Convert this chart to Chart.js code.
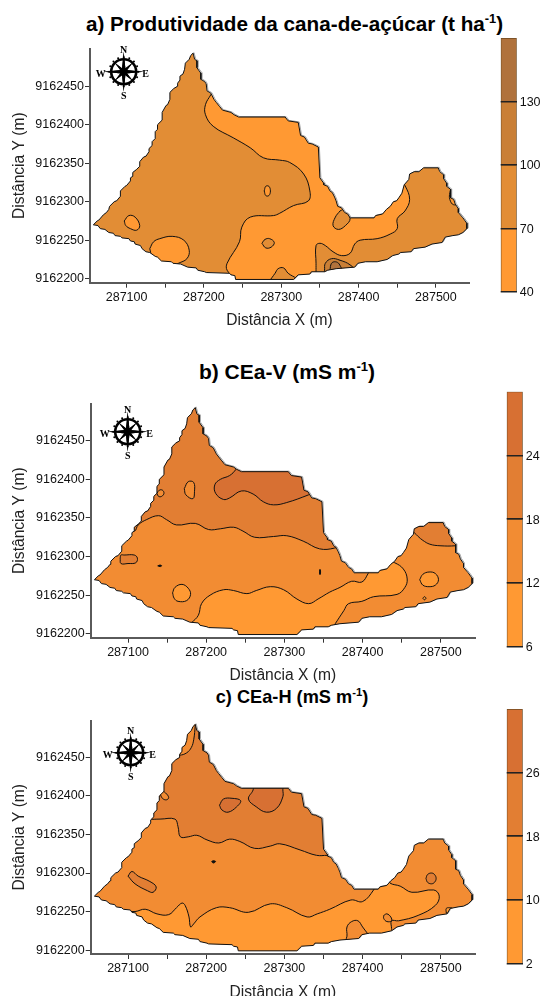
<!DOCTYPE html>
<html>
<head>
<meta charset="utf-8">
<title>Mapas</title>
<script src="https://cdn.jsdelivr.net/npm/chart.js@4"></script>
<style>
    html, body { margin: 0; padding: 0; background: #fff; }
    body { position: relative; width: 542px; height: 996px; overflow: hidden; font-family: "Liberation Sans", Arial, sans-serif; }
    canvas { position: absolute; left: 0; }
    .titulo { position: absolute; font-weight: bold; color: #000; white-space: nowrap; transform: translateX(-50%); line-height: 1; }
    .titulo sup { font-size: 0.62em; line-height: 0; }
</style>
</head>
<body>
<div class="titulo" style="left:294.5px;top:14px;font-size:20.7px">a) Produtividade da cana-de-açúcar (t ha<sup>-1</sup>)</div>
<div class="titulo" style="left:287px;top:361px;font-size:21px">b) CEa-V (mS m<sup>-1</sup>)</div>
<div class="titulo" style="left:292px;top:688px;font-size:18.2px">c) CEa-H (mS m<sup>-1</sup>)</div>
<canvas id="mapa-a" width="480" height="290" style="top:40px"></canvas>
<canvas id="mapa-b" width="486" height="290" style="top:395px"></canvas>
<canvas id="mapa-c" width="486" height="290" style="top:712px"></canvas>
<canvas id="barra-a" width="44" height="272" style="left:498px;top:32px"></canvas>
<canvas id="barra-b" width="38" height="272" style="left:504px;top:386px"></canvas>
<canvas id="barra-c" width="38" height="272" style="left:504px;top:703px"></canvas>
<script>
// coordenadas em metros, relativas a estas origens
const eastOrigin = 287000;
const northOrigin = 9162000;

// contorno da area (igual nos tres mapas)
const fieldEdge = [[57,270],[62,275],[64,276],[70,283],[74,286],[77,290],[78,294],[84,300],[87,301],[92,307],[92,314],[98,320],[100,321],[105,327],[105,331],[108,333],[108,338],[113,342],[117,346],[117,352],[122,358],[125,359],[129,365],[129,369],[133,373],[133,378],[137,382],[137,391],[140,394],[140,400],[146,406],[146,416],[151,425],[153,426],[156,433],[156,442],[161,447],[166,450],[166,454],[169,458],[169,463],[173,466],[175,472],[176,480],[181,485],[183,490],[186,493],[188,485],[191,483],[191,474],[196,467],[196,459],[201,456],[203,453],[204,444],[209,441],[213,433],[216,429],[220,424],[224,419],[235,416],[239,413],[245,410],[305,410],[309,405],[322,403],[325,386],[330,384],[335,376],[340,375],[348,371],[350,331],[355,324],[355,322],[360,320],[363,314],[366,312],[369,306],[371,301],[373,294],[378,292],[382,286],[386,284],[389,279],[420,279],[422,282],[431,284],[436,290],[441,294],[445,300],[449,301],[452,305],[456,311],[459,322],[465,329],[466,336],[472,339],[478,339],[484,344],[503,344],[505,339],[510,335],[510,330],[514,324],[514,320],[519,316],[519,305],[523,303],[525,297],[529,291],[529,286],[535,279],[540,272],[540,265],[535,260],[529,257],[522,256],[512,254],[508,247],[495,245],[486,241],[471,239],[468,235],[454,234],[452,232],[444,230],[437,225],[424,222],[409,222],[399,220],[395,215],[371,213],[360,211],[356,209],[339,209],[337,206],[322,205],[316,199],[241,199],[240,204],[235,205],[233,207],[203,208],[201,209],[192,211],[190,214],[179,215],[170,219],[160,220],[158,222],[145,223],[140,228],[137,229],[130,234],[125,235],[120,239],[118,243],[111,245],[110,248],[105,249],[103,252],[94,253],[92,255],[85,256],[83,259],[77,260],[72,264],[66,265],[63,269],[57,270]];

// a) produtividade
const prodMain = [[213,446],[209,439],[202,426],[202,413],[212,398],[238,383],[260,370],[277,357],[298,354],[311,351],[329,336],[337,314],[335,301],[316,295],[298,285],[290,282],[260,280],[249,267],[246,248],[230,220],[230,211],[240,200],[243,194],[345,196],[345,209],[345,220],[345,243],[350,246],[357,243],[367,235],[378,230],[389,233],[395,245],[402,250],[424,252],[441,258],[450,265],[450,278],[460,288],[466,303],[460,321],[452,332],[400,365],[350,425],[213,446]];
const prodIslandA = [[97,275],[103,282],[111,280],[117,269],[113,263],[105,265],[99,269],[97,275]];
const prodIslandB = [[130,239],[135,248],[143,252],[159,255],[174,250],[181,237],[178,226],[167,220],[150,212],[135,222],[130,239]];
const prodIslandC = [[278,314],[280,320],[284,320],[286,314],[284,308],[280,308],[278,314]];
const prodIslandD = [[520,318],[518,312],[518,303],[523,296],[532,300],[526,318],[520,318]];
const prodHoleA = [[376,288],[370,280],[367,269],[374,264],[383,269],[389,278],[382,290],[376,288]];
const prodHoleB = [[284,196],[292,207],[296,213],[303,214],[309,207],[320,200],[322,196],[284,196]];
const prodHoleC = [[275,246],[279,251],[285,252],[291,247],[287,241],[280,240],[275,246]];
const prodHighOuter = [[355,205],[356,211],[357,220],[365,226],[376,224],[389,218],[395,210],[355,205]];
const prodHighInner = [[362,205],[363,211],[365,220],[370,222],[375,219],[378,208],[362,205]];

// b) CEa-V
const ceavUpper = [[90,340],[108,333],[113,341],[124,348],[139,353],[149,348],[162,341],[186,343],[203,335],[218,336],[235,338],[247,333],[262,325],[286,326],[303,327],[324,320],[345,310],[364,311],[372,316],[382,400],[250,497],[130,497],[90,340]];
const ceavRight = [[462,333],[466,331],[471,326],[477,321],[486,316],[499,314],[519,314],[528,316],[525,350],[470,350],[462,333]];
const ceavTop = [[245,425],[238,413],[230,405],[218,400],[211,393],[212,382],[222,374],[230,376],[245,385],[260,381],[273,371],[286,367],[303,370],[331,380],[342,385],[335,425],[245,425]];
const ceavLow = [[175,208],[181,214],[190,224],[194,239],[205,250],[222,257],[235,256],[252,252],[264,256],[282,261],[299,257],[316,245],[331,239],[343,245],[358,254],[371,260],[386,268],[399,267],[407,278],[412,288],[428,296],[441,292],[452,284],[457,271],[454,260],[444,251],[414,248],[399,242],[382,239],[376,230],[365,213],[360,205],[340,196],[240,196],[175,208]];
const ceavIslandA = [[172,388],[177,397],[184,396],[185,384],[183,375],[174,380],[172,388]];
const ceavIslandB = [[137,382],[140,386],[144,386],[146,382],[143,378],[139,378],[137,382]];
const ceavIslandC = [[90,298],[91,302],[95,302],[108,302],[112,298],[110,292],[100,291],[91,291],[90,298]];
const ceavIslandD = [[157,253],[160,260],[169,264],[177,259],[180,251],[175,243],[164,242],[159,246],[157,253]];
const ceavIslandE = [[473,270],[477,277],[485,280],[493,278],[497,270],[493,263],[485,261],[477,263],[473,270]];
const ceavIslandF = [[477,246],[479,248],[481,246],[479,244],[477,246]];
const ceavDotA = [[138,288],[141,289],[143,288],[141,287],[138,288]];
const ceavDotB = [[345,277],[346,277],[346,283],[345,283],[345,277]];

// c) CEa-H
const ceahUpper = [[110,380],[120,372],[126,370],[141,370],[160,370],[164,360],[167,347],[177,347],[188,349],[201,343],[216,339],[230,344],[243,341],[262,332],[282,335],[294,338],[320,330],[341,323],[355,323],[362,323],[382,400],[250,497],[130,497],[110,380]];
const ceahPeak = [[186,497],[186,492],[184,473],[181,463],[175,456],[166,453],[160,455],[170,495],[186,497]];
const ceahEdge = [[141,403],[144,406],[148,404],[152,398],[149,395],[144,397],[141,403]];
const ceahTopA = [[217,388],[222,396],[233,397],[244,394],[239,386],[228,379],[220,382],[217,388]];
const ceahTopB = [[260,416],[260,408],[254,396],[264,386],[277,379],[290,384],[298,399],[298,408],[298,416],[260,416]];
const ceahStrip = [[100,296],[105,302],[113,296],[128,289],[136,282],[132,275],[125,277],[109,286],[100,296]];
const ceahDot = [[207,315],[209,316],[212,315],[209,313],[207,315]];
const ceahLow = [[88,250],[94,251],[109,250],[122,253],[137,247],[152,246],[162,255],[169,261],[173,258],[178,243],[180,230],[184,234],[192,243],[213,255],[230,255],[254,249],[282,260],[303,255],[329,243],[342,247],[358,253],[385,265],[400,263],[414,278],[420,291],[432,294],[435,287],[448,283],[463,275],[491,278],[498,270],[493,258],[471,245],[446,238],[437,238],[437,228],[437,218],[400,208],[340,196],[240,196],[180,205],[140,220],[88,245],[88,250]];
const ceahHump = [[378,212],[380,218],[380,230],[386,237],[394,238],[400,230],[406,222],[412,215],[378,212]];
const ceahCurl = [[427,245],[431,247],[436,243],[437,238],[431,237],[427,241],[427,245]];
const ceahIslandA = [[481,293],[483,298],[488,300],[492,298],[494,293],[492,288],[488,286],[483,288],[481,293]];
const ceahIslandB = [[507,248],[507,254],[511,255],[515,254],[512,248],[507,248]];

// classes das legendas
const prodLevels = [40, 70, 100, 130, 160];
const ceavLevels = [6, 12, 18, 24, 30];
const ceahLevels = [2, 10, 18, 26, 34];
const prodTicks = [40, 70, 100, 130];
const ceavTicks = [6, 12, 18, 24];
const ceahTicks = [2, 10, 18, 26];

const prodColors = ["#FF9933", "#E28D35", "#C97F36", "#B0723C"];
const ceaColors = ["#FF9933", "#F28C33", "#E27E33", "#D77033"];

const FONT = '"Liberation Sans", Arial, sans-serif';

function toPoints(list) {
    return list.map(p => ({ x: eastOrigin + p[0], y: northOrigin + p[1] }));
}

function layer(list, color) {
    return {
        data: toPoints(list),
        showLine: true,
        pointRadius: 0,
        backgroundColor: color,
        borderColor: "#111",
        borderWidth: 1,
        tension: 0.4,
        fill: "shape"
    };
}

// pinta a rosa dos ventos
function drawCompass(ctx, cx, cy) {
    ctx.save();
    ctx.translate(cx, cy);
    ctx.strokeStyle = "#000";
    ctx.fillStyle = "#000";
    ctx.lineWidth = 2.6;
    ctx.beginPath();
    ctx.arc(0, 0, 12.5, 0, Math.PI * 2);
    ctx.stroke();
    for (let i = 0; i < 16; i++) {
        const a = i * Math.PI / 8;
        ctx.beginPath();
        ctx.arc(Math.cos(a) * 14.5, Math.sin(a) * 14.5, 1, 0, Math.PI * 2);
        ctx.fill();
    }
    for (let i = 0; i < 8; i++) {
        const long = i % 2 === 0;
        const r = long ? 20 : 13;
        const w = long ? 2 : 1.7;
        ctx.save();
        ctx.rotate(i * Math.PI / 4);
        ctx.beginPath();
        ctx.moveTo(0, -r);
        ctx.lineTo(w, 0);
        ctx.lineTo(0, r);
        ctx.lineTo(-w, 0);
        ctx.closePath();
        ctx.fill();
        ctx.restore();
    }
    ctx.font = 'bold 10px "Liberation Serif", serif';
    ctx.textAlign = "center";
    ctx.textBaseline = "middle";
    ctx.fillText("N", 0, -21);
    ctx.fillText("S", 0, 25);
    ctx.fillText("W", -23, 3);
    ctx.fillText("E", 22, 3);
    ctx.restore();
}

function buildMap(id, layers, limits, box, compass) {
    const canvas = document.getElementById(id);
    const edge = layer(fieldEdge, layers.base);
    edge.tension = 0;
    edge.borderWidth = 0;
    const datasets = [edge].concat(layers.items);
    datasets.forEach((d, i) => { d.order = -i; });

    const fieldClip = {
        id: "fieldClip",
        beforeDatasetsDraw(chart) {
            const ctx = chart.ctx;
            const line = chart.getDatasetMeta(0).dataset;
            // sombra cinza do contorno
            ctx.save();
            ctx.translate(1, -0.5);
            ctx.strokeStyle = "#a8a8a8";
            ctx.lineWidth = 1;
            ctx.beginPath();
            line.path(ctx);
            ctx.stroke();
            ctx.restore();
            ctx.save();
            ctx.beginPath();
            line.path(ctx);
            ctx.clip();
        },
        afterDatasetsDraw(chart) {
            const ctx = chart.ctx;
            ctx.restore();
            ctx.save();
            ctx.strokeStyle = "#111";
            ctx.lineWidth = 1;
            ctx.beginPath();
            chart.getDatasetMeta(0).dataset.path(ctx);
            ctx.stroke();
            ctx.restore();
            drawCompass(ctx, compass[0], compass[1]);
        }
    };

    const axisLine = { display: true, color: "#5a5a5a", width: 2 };
    const tickMarks = { drawOnChartArea: false, drawTicks: true, tickLength: 5, tickColor: "#333", tickWidth: 1 };
    const tickFont = { family: FONT, size: 12.5 };

    return new Chart(canvas, {
        type: "scatter",
        data: { datasets: datasets },
        plugins: [fieldClip],
        options: {
            responsive: false,
            animation: false,
            events: [],
            layout: { padding: { top: box.top, right: canvas.width - box.right, left: 0, bottom: 0 } },
            elements: { line: { capBezierPoints: false } },
            plugins: { legend: { display: false }, tooltip: { enabled: false } },
            scales: {
                x: {
                    type: "linear",
                    min: eastOrigin + limits[0],
                    max: eastOrigin + limits[1],
                    border: axisLine,
                    grid: tickMarks,
                    afterFit(scale) { scale.height = canvas.height - box.bottom; },
                    ticks: {
                        stepSize: 50,
                        includeBounds: false,
                        autoSkip: false,
                        maxRotation: 0,
                        padding: 2,
                        color: "#111",
                        font: tickFont,
                        callback: v => (v % 100 === 0 ? String(v) : "")
                    },
                    title: { display: true, text: "Distância X (m)", color: "#222", font: { family: FONT, size: 15.6 }, padding: { top: 0, bottom: 0 } }
                },
                y: {
                    type: "linear",
                    min: northOrigin + limits[2],
                    max: northOrigin + limits[3],
                    border: axisLine,
                    grid: tickMarks,
                    afterFit(scale) { scale.width = box.left; },
                    ticks: {
                        stepSize: 50,
                        includeBounds: false,
                        padding: 1,
                        color: "#111",
                        font: tickFont,
                        callback: v => String(v)
                    },
                    title: { display: true, text: "Distância Y (m)", color: "#222", font: { family: FONT, size: 15.6 }, padding: { top: 10.5, bottom: 0 } }
                }
            }
        }
    });
}

function buildBar(id, levels, ticks, colors, box) {
    const canvas = document.getElementById(id);
    const datasets = colors.map((c, i) => ({
        data: [[levels[i], levels[i + 1]]],
        backgroundColor: c,
        borderColor: "#6e4a22",
        borderWidth: 1,
        grouped: false,
        barPercentage: 1,
        categoryPercentage: 1
    }));
    return new Chart(canvas, {
        type: "bar",
        data: { labels: [""], datasets: datasets },
        options: {
            responsive: false,
            animation: false,
            events: [],
            layout: { padding: { top: box.top, bottom: canvas.height - box.bottom, left: box.left, right: 0 } },
            plugins: { legend: { display: false }, tooltip: { enabled: false } },
            scales: {
                x: { display: false },
                y: {
                    position: "right",
                    min: levels[0],
                    max: levels[levels.length - 1],
                    border: { display: false },
                    grid: { z: 1, color: "#222", lineWidth: 1.5, drawTicks: false },
                    afterBuildTicks(scale) { scale.ticks = ticks.map(v => ({ value: v })); },
                    afterFit(scale) {
                        scale.width = canvas.width - box.left - 16;
                        // sem margem extra para os rotulos das pontas
                        scale.paddingTop = 0;
                        scale.paddingBottom = 0;
                    },
                    ticks: { padding: 3, labelOffset: 1, color: "#111", font: { family: FONT, size: 12.5 }, callback: v => String(v) }
                }
            }
        }
    });
}

buildMap("mapa-a", {
    base: prodColors[1],
    items: [
        layer(prodMain, prodColors[0]),
        layer(prodIslandA, prodColors[0]),
        layer(prodIslandB, prodColors[0]),
        layer(prodIslandC, prodColors[0]),
        layer(prodIslandD, prodColors[0]),
        layer(prodHoleA, prodColors[1]),
        layer(prodHoleB, prodColors[1]),
        layer(prodHoleC, prodColors[1]),
        layer(prodHighOuter, prodColors[2]),
        layer(prodHighInner, prodColors[3])
    ]
}, [52.7, 542.8, 194.8, 499], { left: 90, right: 469, top: 6.7, bottom: 242.7 }, [123.7, 31.7]);

buildMap("mapa-b", {
    base: ceaColors[1],
    items: [
        layer(ceavUpper, ceaColors[2]),
        layer(ceavRight, ceaColors[2]),
        layer(ceavTop, ceaColors[3]),
        layer(ceavLow, ceaColors[0]),
        layer(ceavIslandA, ceaColors[1]),
        layer(ceavIslandB, ceaColors[1]),
        layer(ceavIslandC, ceaColors[2]),
        layer(ceavIslandD, ceaColors[0]),
        layer(ceavIslandE, ceaColors[0]),
        layer(ceavIslandF, ceaColors[0]),
        layer(ceavDotA, "#111"),
        layer(ceavDotB, "#111")
    ]
}, [52.3, 543.7, 194.9, 498.3], { left: 90.7, right: 475, top: 6, bottom: 242.7 }, [127.7, 36.7]);

buildMap("mapa-c", {
    base: ceaColors[1],
    items: [
        layer(ceahUpper, ceaColors[2]),
        layer(ceahPeak, ceaColors[1]),
        layer(ceahEdge, ceaColors[1]),
        layer(ceahTopA, ceaColors[3]),
        layer(ceahTopB, ceaColors[3]),
        layer(ceahStrip, ceaColors[2]),
        layer(ceahDot, "#111"),
        layer(ceahLow, ceaColors[0]),
        layer(ceahHump, ceaColors[1]),
        layer(ceahCurl, ceaColors[1]),
        layer(ceahIslandA, ceaColors[2]),
        layer(ceahIslandB, ceaColors[0])
    ]
}, [52.3, 543.7, 194.9, 498], { left: 90.7, right: 475, top: 5.5, bottom: 242 }, [130.7, 40.7]);

buildBar("barra-a", prodLevels, prodTicks, prodColors, { left: 2.7, top: 6, bottom: 259.7 });
buildBar("barra-b", ceavLevels, ceavTicks, ceaColors, { left: 2.7, top: 5.7, bottom: 260.7 });
buildBar("barra-c", ceahLevels, ceahTicks, ceaColors, { left: 2.7, top: 6, bottom: 260.3 });
</script>
</body>
</html>
